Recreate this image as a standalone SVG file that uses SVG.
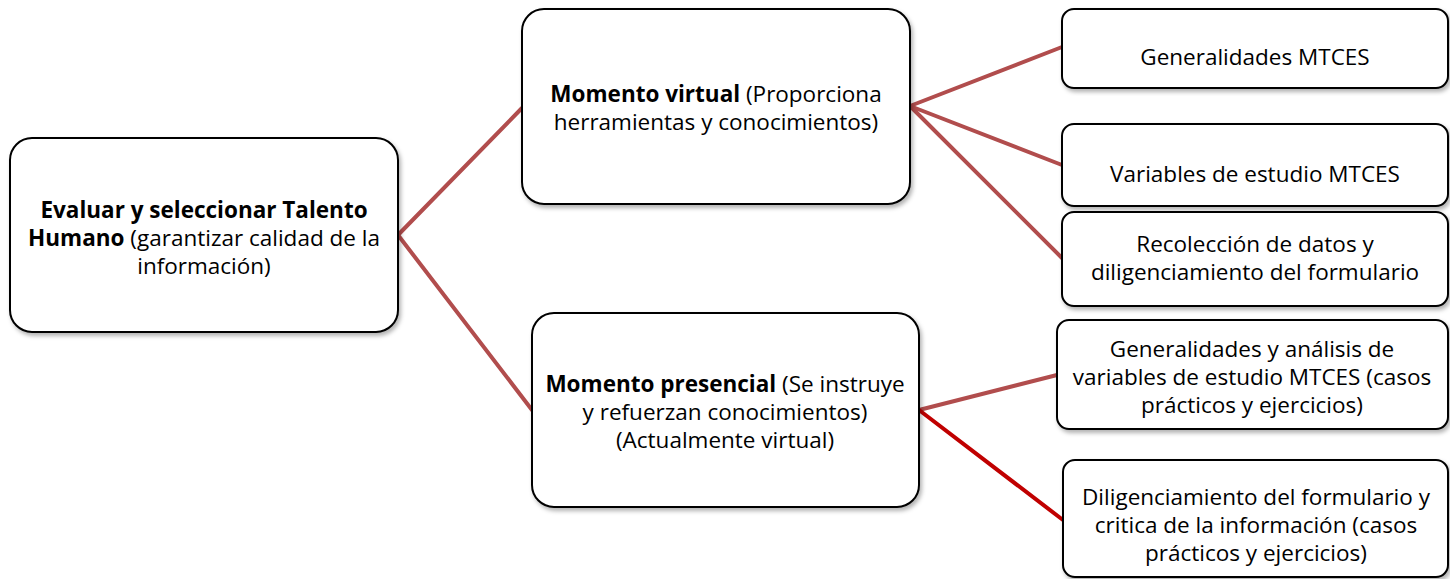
<svg xmlns="http://www.w3.org/2000/svg" width="1450" height="579" viewBox="0 0 1450 579">
<style>
.box{fill:#fff;stroke:#000;stroke-width:2;filter:url(#sh)}
text{font-family:"Open Sans","Noto Sans","Liberation Sans",sans-serif;font-size:22.5px;fill:#000;text-anchor:middle}
.b{font-weight:bold}
.c{stroke:#b14d4d;stroke-width:4;fill:none;stroke-linecap:round}
.r{stroke:#c00000}
</style>
<defs>
<filter id="sh" x="-5%" y="-5%" width="112%" height="115%">
<feDropShadow dx="2" dy="3" stdDeviation="2" flood-color="#000" flood-opacity="0.3"/>
</filter>
</defs>
<g id="connectors">
<line class="c" x1="398" y1="235" x2="522" y2="108"/>
<line class="c" x1="398" y1="235" x2="532" y2="410"/>
<line class="c" x1="910" y1="106" x2="1062" y2="47"/>
<line class="c" x1="910" y1="106" x2="1062" y2="165"/>
<line class="c" x1="910" y1="106" x2="1062" y2="258"/>
<line class="c" x1="919" y1="410" x2="1057" y2="375"/>
<line class="c r" x1="919" y1="410" x2="1063" y2="520"/>
</g>
<g id="root">
<rect class="box" x="10" y="138" width="388" height="194" rx="22"/>
<text x="204" y="218"><tspan class="b">Evaluar y seleccionar Talento</tspan></text>
<text x="204" y="246"><tspan class="b">Humano</tspan> (garantizar calidad de la</text>
<text x="204" y="274">información)</text>
</g>
<g id="virtual">
<rect class="box" x="522" y="9" width="388" height="195" rx="22"/>
<text x="716" y="102"><tspan class="b">Momento virtual</tspan> (Proporciona</text>
<text x="716" y="130">herramientas y conocimientos)</text>
</g>
<g id="presencial">
<rect class="box" x="532" y="313" width="387" height="194" rx="22"/>
<text x="725" y="392"><tspan class="b">Momento presencial</tspan> (Se instruye</text>
<text x="725" y="420">y refuerzan conocimientos)</text>
<text x="725" y="448">(Actualmente virtual)</text>
</g>
<g id="generalidades">
<rect class="box" x="1062" y="9" width="386" height="79" rx="12"/>
<text x="1255" y="65">Generalidades MTCES</text>
</g>
<g id="variables">
<rect class="box" x="1062" y="124" width="386" height="82" rx="12"/>
<text x="1255" y="182">Variables de estudio MTCES</text>
</g>
<g id="recoleccion">
<rect class="box" x="1062" y="212" width="386" height="94" rx="12"/>
<text x="1255" y="252">Recolección de datos y</text>
<text x="1255" y="280">diligenciamiento del formulario</text>
</g>
<g id="analisis">
<rect class="box" x="1057" y="320" width="391" height="109" rx="12"/>
<text x="1252" y="357">Generalidades y análisis de</text>
<text x="1252" y="385">variables de estudio MTCES (casos</text>
<text x="1252" y="413">prácticos y ejercicios)</text>
</g>
<g id="diligenciamiento">
<rect class="box" x="1063" y="460" width="385" height="117" rx="12"/>
<text x="1256" y="505">Diligenciamiento del formulario y</text>
<text x="1256" y="533">critica de la información (casos</text>
<text x="1256" y="561">prácticos y ejercicios)</text>
</g>
</svg>
